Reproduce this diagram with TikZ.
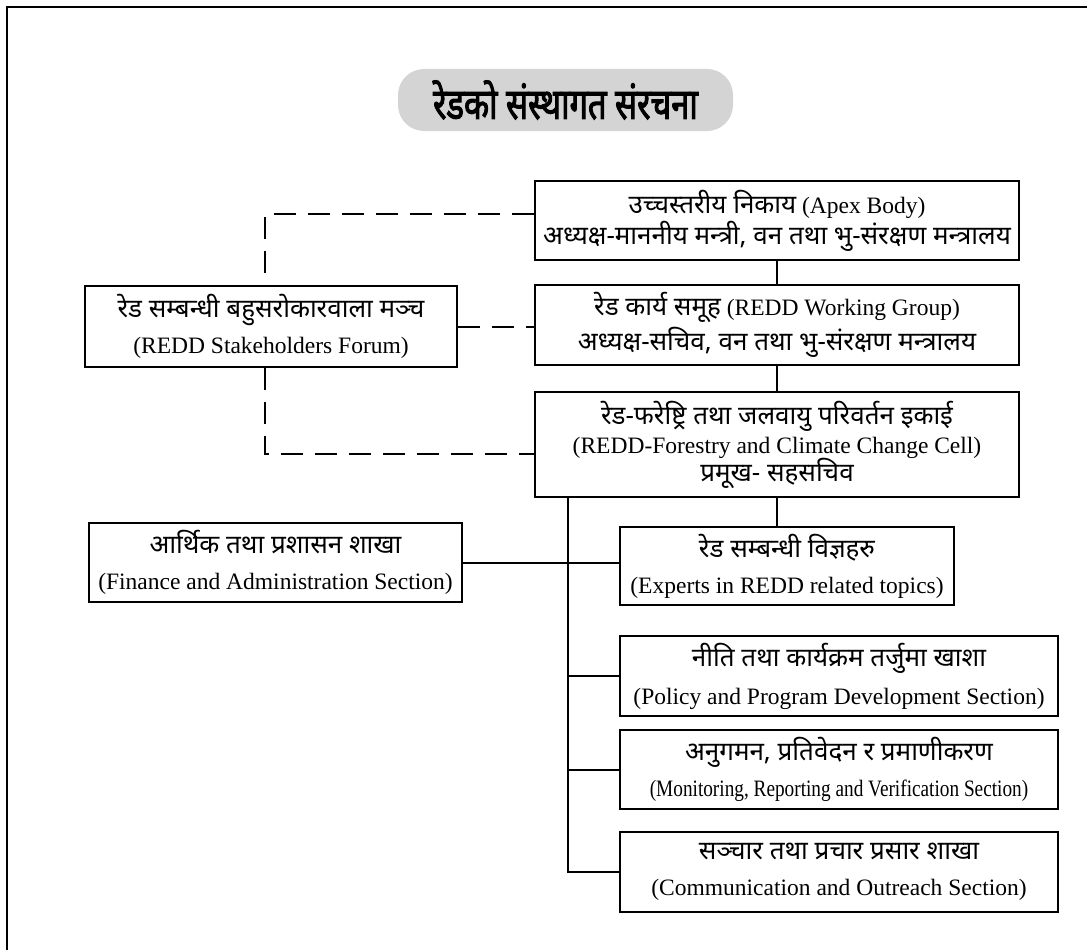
\documentclass[tikz,border=0pt]{standalone}
\usepackage{fontspec}
\usepackage{graphicx}
\setmainfont{Liberation Serif}
\newfontfamily\dev[Script=Devanagari]{Noto Sans}
\newfontfamily\devtitle[Script=Devanagari,FakeStretch=0.76,FakeBold=2.2]{Noto Sans}
\usetikzlibrary{calc}
\tikzset{
  box/.style={draw, line width=2pt, fill=white, align=center, inner sep=0pt,
    font=\fontsize{23.5}{29}\selectfont},
  conn/.style={line width=2pt},
  dconn/.style={line width=2pt, dash pattern=on 22pt off 12pt},
  titlebox/.style={fill=black!17, rounded corners=26pt, inner sep=0pt,
    minimum width=335pt, minimum height=62pt, font=\devtitle\fontsize{43}{46}\selectfont}
}
\newcommand{\dv}[1]{{\dev\fontsize{26}{29}\selectfont #1}}
\begin{document}
\begin{tikzpicture}[x=1pt,y=-1pt]
\useasboundingbox (0,0) rectangle (1087,950);
\begin{scope}
\clip (0,0) rectangle (1087,950);
\draw[line width=2pt] (7,7) rectangle (1100,965);
\end{scope}

\node[titlebox] (title) at (565.5,100) {रेडको संस्थागत संरचना};

\node[box, minimum width=484pt, minimum height=79pt] (apex) at (777,220.5)
  {\dv{उच्चस्तरीय निकाय} (Apex Body)\\[2pt] \dv{अध्यक्ष-माननीय मन्त्री, वन तथा भु-संरक्षण मन्त्रालय}};
\node[box, minimum width=484pt, minimum height=80pt] (work) at (777,325)
  {\dv{रेड कार्य समूह} (REDD Working Group)\\[3pt] \dv{अध्यक्ष-सचिव, वन तथा भु-संरक्षण मन्त्रालय}};
\node[box, minimum width=372pt, minimum height=81pt] (forum) at (271,326.5)
  {\dv{रेड सम्बन्धी बहुसरोकारवाला मञ्च}\\[7pt] (REDD Stakeholders Forum)};
\node[box, minimum width=484pt, minimum height=105pt] (cell) at (777,444.5)
  {\dv{रेड-फरेष्ट्रि तथा जलवायु परिवर्तन इकाई}\\[0pt] (REDD-Forestry and Climate Change Cell)\\[-1pt] \dv{प्रमूख- सहसचिव}};
\node[box, minimum width=334pt, minimum height=78pt] (expert) at (787,566)
  {\dv{रेड सम्बन्धी विज्ञहरु}\\[7pt] (Experts in REDD related topics)};
\node[box, minimum width=373pt, minimum height=79pt] (finance) at (275.5,562.5)
  {\dv{आर्थिक तथा प्रशासन शाखा}\\[7pt] (Finance and Administration Section)};
\node[box, minimum width=438pt, minimum height=80pt] (policy) at (839,676)
  {\dv{नीति तथा कार्यक्रम तर्जुमा खाशा}\\[9pt] (Policy and Program Development Section)};
\node[box, minimum width=438pt, minimum height=79pt] (monitor) at (839,769.5)
  {\dv{अनुगमन, प्रतिवेदन र प्रमाणीकरण}\\[7pt] \scalebox{0.82}[1]{(Monitoring, Reporting and Verification Section)}};
\node[box, minimum width=438pt, minimum height=80pt] (comm) at (839,872)
  {\dv{सञ्चार तथा प्रचार प्रसार शाखा}\\[7pt] (Communication and Outreach Section)};

% dashed links to forum
\coordinate (d1) at (265,214);
\coordinate (d2) at (265,454);
\draw[dconn] (apex.west |- d1) -- (d1) -- (d1 |- forum.north);
\draw[dconn] (forum.east) -- (forum.east -| work.west);
\draw[dconn] (d2 |- forum.south) -- (d2) -- (d2 -| cell.west);

% solid hierarchy
\draw[conn] (apex.south) -- (work.north);
\draw[conn] (work.south) -- (cell.north);
\draw[conn] (cell.south) -- (cell.south |- expert.north);
\coordinate (t) at (568,0);
\draw[conn] (t |- cell.south) -- (t |- comm.west) -- (comm.west);
\draw[conn] (t |- policy.west) -- (policy.west);
\draw[conn] (t |- monitor.west) -- (monitor.west);
\draw[conn] (finance.east) -- (finance.east -| expert.west);
\end{tikzpicture}
\end{document}
